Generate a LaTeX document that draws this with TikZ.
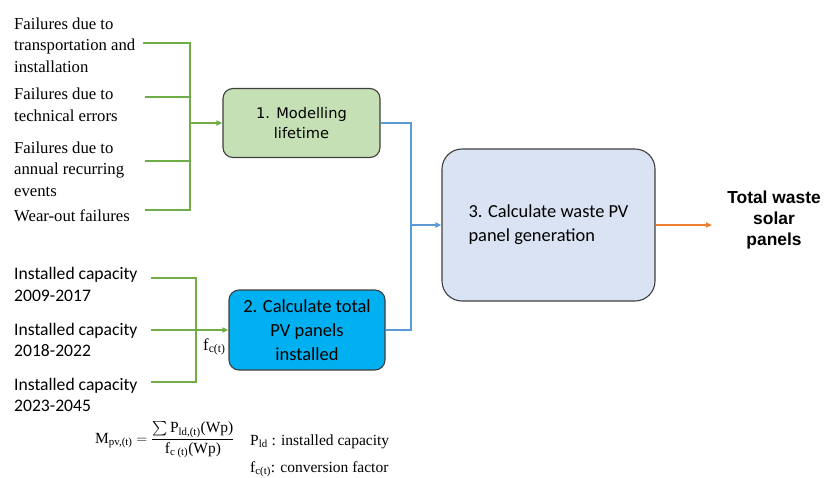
\documentclass[tikz,border=0pt]{standalone}
\usepackage{fontspec}
\usepackage{amsmath}
\usetikzlibrary{arrows.meta}
\setmainfont{Liberation Serif}
\newfontfamily\calib{Carlito}
\newfontfamily\tah{DejaVu Sans}
\newfontfamily\arialf{Liberation Sans}

\definecolor{lgreen}{HTML}{70AD47}
\definecolor{lblue}{HTML}{5B9BD5}
\definecolor{lorange}{HTML}{ED7D31}
\definecolor{fillone}{HTML}{C5E0B4}
\definecolor{filltwo}{HTML}{00B0F0}
\definecolor{fillthree}{HTML}{DAE3F3}
\definecolor{boxline}{HTML}{3F3F3F}

\begin{document}
\begin{tikzpicture}[x=1pt,y=-1pt,
  serlbl/.style={anchor=base west, align=left, inner sep=0pt,
    font=\fontsize{16.7}{21.5}\selectfont},
  caplbl/.style={anchor=base west, align=left, inner sep=0pt,
    font=\calib\fontsize{17.6}{21.5}\selectfont},
  stepbox/.style={draw=boxline, line width=1.1pt, rounded corners=10pt,
    align=center, inner sep=0pt},
  gline/.style={draw=lgreen, line width=1.5pt},
  bline/.style={draw=lblue, line width=1.5pt},
  oline/.style={draw=lorange, line width=1.5pt},
  tip/.style={-{Triangle[length=6pt,width=5pt]}}
]
\useasboundingbox (0,0) rectangle (826,477);

% failure categories feeding the lifetime model (placed by last baseline)
\node[serlbl] (t1) at (14,72) {Failures due to\\transportation and\\installation};
\node[serlbl] (t2) at (14,121) {Failures due to\\technical errors};
\node[serlbl] (t3) at (14,196) {Failures due to\\annual recurring\\events};
\node[serlbl] (t4) at (14,221) {Wear-out failures};

% installed capacity inputs
\node[caplbl] (c1) at (14,301) {Installed capacity\\2009-2017};
\node[caplbl] (c2) at (14,356.5) {Installed capacity\\2018-2022};
\node[caplbl] (c3) at (14,411.5) {Installed capacity\\2023-2045};

% process boxes
\node[stepbox, fill=fillone, minimum width=157pt, minimum height=69pt,
  font=\tah\fontsize{14.6}{20}\selectfont] (box1) at (301.5,123)
  {1. Modelling\\lifetime};
\node[stepbox, fill=filltwo, minimum width=156pt, minimum height=80pt,
  font=\calib\fontsize{18.5}{24}\selectfont] (box2) at (307,330)
  {2. Calculate total\\PV panels\\installed};
\node[stepbox, rounded corners=20pt, fill=fillthree, minimum width=213pt,
  minimum height=152pt, align=left,
  font=\calib\fontsize{18.4}{24}\selectfont] (box3) at (548.5,225)
  {3. Calculate waste PV\\panel generation};

% output
\node[align=center, inner sep=0pt,
  font=\arialf\bfseries\fontsize{17.4}{21}\selectfont] (out) at (774,220)
  {Total waste\\solar\\panels};

% green collector for the failure categories
\coordinate (g1) at (143,43);
\coordinate (g2) at (145,97);
\coordinate (g3) at (145,161);
\coordinate (g4) at (145,210);
\coordinate (gbus) at (190,0);
\draw[gline] (g1) -- (g1 -| gbus) -- (g4 -| gbus) -- (g4);
\draw[gline] (g2) -- (g2 -| gbus);
\draw[gline] (g3) -- (g3 -| gbus);
\draw[gline, tip] (box1.west -| gbus) -- (box1.west);

% green collector for the installed capacities
\coordinate (h1) at (151,278);
\coordinate (h2) at (151,330);
\coordinate (h3) at (151,382);
\coordinate (hbus) at (196,0);
\draw[gline] (h1) -- (h1 -| hbus) -- (h3 -| hbus) -- (h3);
\draw[gline, tip] (h2) -- (box2.west);
\node[anchor=base west, inner sep=0pt, font=\fontsize{16.7}{20}\selectfont]
  (fc) at (203,350) {f\textsubscript{c(t)}};

% blue merge into box 3
\coordinate (bbus) at (411,0);
\draw[bline] (box1.east) -- (box1.east -| bbus) -- (box2.east -| bbus) -- (box2.east);
\draw[bline, tip] (box3.west -| bbus) -- (box3.west);

% orange output arrow
\coordinate (oend) at (712,225);
\draw[oline, tip] (box3.east) -- (oend);

% conversion formula
\node[anchor=west, inner sep=0pt, font=\fontsize{15.5}{18}\selectfont] (eq) at (95,440)
  {M\textsubscript{pv,(t)} $=$ $\dfrac{\textstyle\sum\text{P\textsubscript{ld,(t)}(Wp)}}{\text{f\textsubscript{c (t)}(Wp)}}$};
\node[anchor=base west, inner sep=0pt, font=\fontsize{15.5}{18}\selectfont]
  (leg1) at (250,445) {P\textsubscript{ld} : installed capacity};
\node[anchor=base west, inner sep=0pt, font=\fontsize{15.5}{18}\selectfont]
  (leg2) at (250,472) {f\textsubscript{c(t)}: conversion factor};
\end{tikzpicture}
\end{document}
